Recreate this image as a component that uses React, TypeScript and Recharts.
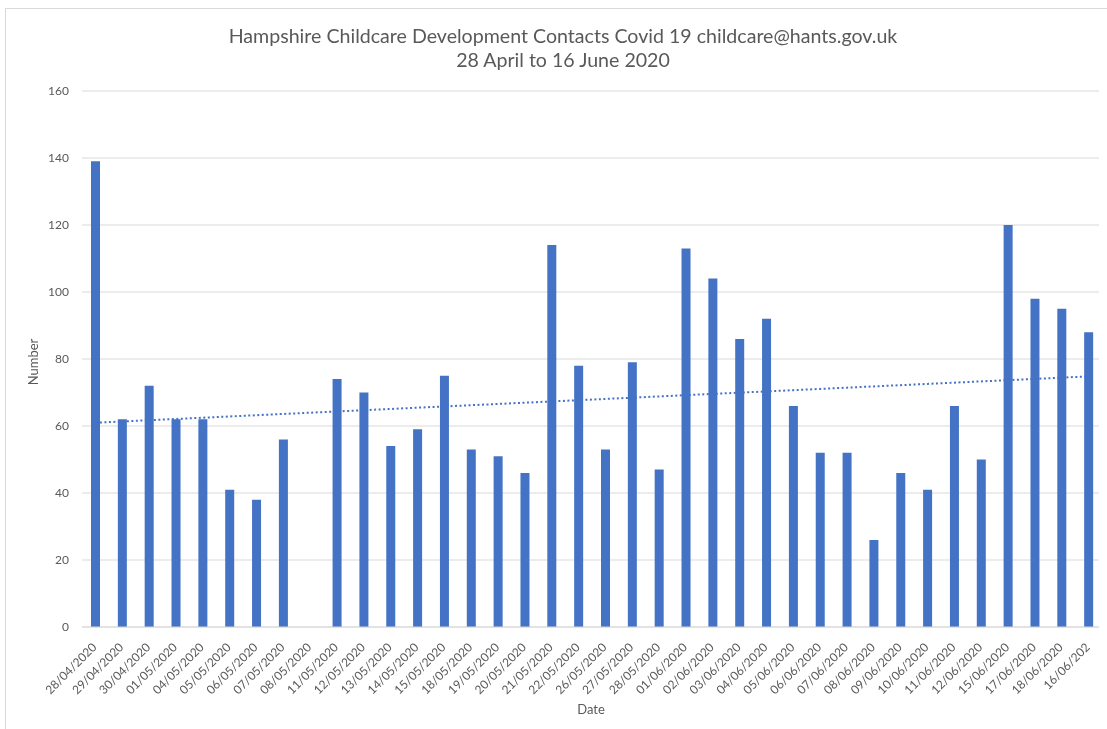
import React from 'react';
import {
  ComposedChart,
  Bar,
  Line,
  XAxis,
  YAxis,
  CartesianGrid,
  Customized,
} from 'recharts';

// Daily contact counts, 28 April – 16 June 2020
const dates = [
  '28/04/2020', '29/04/2020', '30/04/2020', '01/05/2020', '04/05/2020',
  '05/05/2020', '06/05/2020', '07/05/2020', '08/05/2020', '11/05/2020',
  '12/05/2020', '13/05/2020', '14/05/2020', '15/05/2020', '18/05/2020',
  '19/05/2020', '20/05/2020', '21/05/2020', '22/05/2020', '26/05/2020',
  '27/05/2020', '28/05/2020', '01/06/2020', '02/06/2020', '03/06/2020',
  '04/06/2020', '05/06/2020', '06/06/2020', '07/06/2020', '08/06/2020',
  '09/06/2020', '10/06/2020', '11/06/2020', '12/06/2020', '15/06/2020',
  '17/06/2020', '18/06/2020', '16/06/202',
];

const contacts = [
  139, 62, 72, 62, 62, 41, 38, 56, 0, 74,
  70, 54, 59, 75, 53, 51, 46, 114, 78, 53,
  79, 47, 113, 104, 86, 92, 66, 52, 52, 26,
  46, 41, 66, 50, 120, 98, 95, 88,
];

const yTicks = [0, 20, 40, 60, 80, 100, 120, 140, 160];

// Least-squares linear trend over the category index
function linearTrend(values: number[]): number[] {
  const n = values.length;
  const xs = values.map((_, i) => i + 1);
  const mx = xs.reduce((a, b) => a + b, 0) / n;
  const my = values.reduce((a, b) => a + b, 0) / n;
  let num = 0;
  let den = 0;
  for (let i = 0; i < n; i++) {
    num += (xs[i] - mx) * (values[i] - my);
    den += (xs[i] - mx) * (xs[i] - mx);
  }
  const slope = num / den;
  const intercept = my - slope * mx;
  return xs.map((x) => intercept + slope * x);
}

const trend = linearTrend(contacts);

const data = dates.map((date, i) => ({
  date,
  contacts: contacts[i],
  trend: trend[i],
}));

const FONT = 'Lato, "Noto Sans", sans-serif';
const TEXT = '#595959';
const BLUE = '#4472C4';
const GRID = '#D9D9D9';

const DateTick = (props: any) => {
  const { x, y, payload } = props;
  return (
    <g transform={`translate(${x + 2},${y + 21})`}>
      <text
        x={0}
        y={0}
        textAnchor="end"
        transform="rotate(-45)"
        fill={TEXT}
        fontSize={12}
        fontFamily={FONT}
      >
        {payload.value}
      </text>
    </g>
  );
};

const Titles = () => (
  <g fontFamily={FONT} fill={TEXT}>
    <text x={555} y={35} textAnchor="middle" fontSize={19.6}>
      Hampshire Childcare Development  Contacts Covid 19 childcare@hants.gov.uk
    </text>
    <text x={555} y={59} textAnchor="middle" fontSize={19.6}>
      28 April to 16 June 2020
    </text>
    <text
      x={25}
      y={354}
      textAnchor="middle"
      dominantBaseline="central"
      fontSize={13}
      transform="rotate(-90 25 354)"
    >
      Number
    </text>
    <text x={583} y={706} textAnchor="middle" fontSize={13}>
      Date
    </text>
  </g>
);

export default function App() {
  return (
    <div style={{ position: 'relative', width: 1099, height: 713 }}>
      <div
        style={{
          position: 'fixed',
          left: 5,
          top: 8,
          width: 1200,
          height: 800,
          border: `1px solid ${GRID}`,
          pointerEvents: 'none',
        }}
      />
      <ComposedChart
        width={1099}
        height={713}
        data={data}
        margin={{ top: 83, right: 5, bottom: 20, left: 0 }}
        barCategoryGap={0}
      >
        <CartesianGrid vertical={false} stroke={GRID} strokeWidth={1} />
        <XAxis
          dataKey="date"
          interval={0}
          height={74}
          tickLine={false}
          tickSize={0}
          tickMargin={0}
          axisLine={{ stroke: GRID }}
          tick={<DateTick />}
        />
        <YAxis
          width={74}
          domain={[0, 160]}
          ticks={yTicks}
          axisLine={false}
          tickLine={false}
          tickSize={0}
          tickMargin={13}
          tick={{ fill: TEXT, fontSize: 12, fontFamily: FONT }}
        />
        <Bar dataKey="contacts" fill={BLUE} barSize={9} isAnimationActive={false} />
        <Line
          dataKey="trend"
          type="linear"
          stroke={BLUE}
          strokeWidth={2}
          strokeDasharray="2 2.5"
          dot={false}
          activeDot={false}
          isAnimationActive={false}
        />
        <Customized component={Titles} />
      </ComposedChart>
    </div>
  );
}
